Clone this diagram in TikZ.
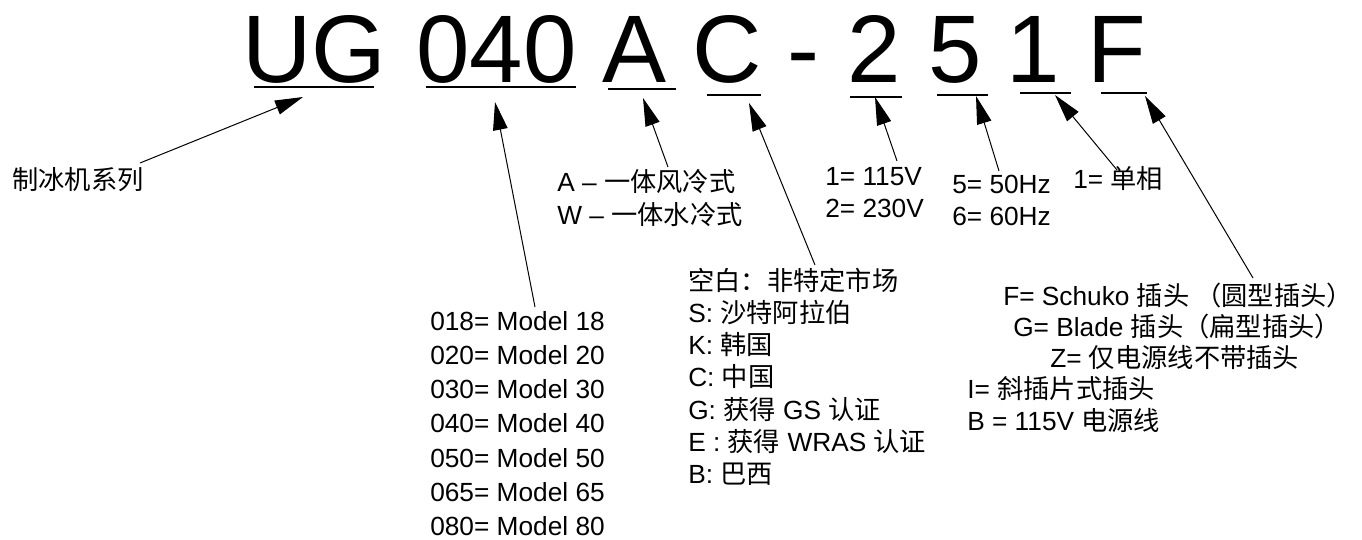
\documentclass[tikz,border=0pt]{standalone}
\usepackage{fontspec}
\setmainfont{Liberation Sans}
\newfontfamily\cjk{Noto Sans CJK SC}
\newcommand{\zh}[1]{{\cjk #1}}
\usetikzlibrary{arrows.meta}
\tikzset{
  lbl/.style={font=\fontsize{19.7}{22}\selectfont, inner sep=0pt, anchor=base west},
  codechar/.style={font=\fontsize{72}{72}\selectfont, inner sep=0pt, anchor=base west},
  uline/.style={line width=1.5pt},
  ptr/.style={-{Triangle[length=21pt,width=11pt]}, line width=0.75pt}
}
\begin{document}
\begin{tikzpicture}[x=0.75pt, y=-0.75pt]
\useasboundingbox (0,0) rectangle (1362,539);
% code letters
\node[codechar] (cUG) at (242,82)    {UG};
\node[codechar] (cM)  at (416,82)    {040};
\node[codechar] (cA)  at (602,82)    {A};
\node[codechar] (cC)  at (692,82)    {C};
\node[codechar] (cD)  at (787,82)    {-};
\node[codechar] (cV)  at (847,82)    {2};
\node[codechar] (cH)  at (928,82)    {5};
\node[codechar] (cP)  at (1006.5,82) {1};
\node[codechar] (cF)  at (1087,82)   {F};
% underlines
\draw[uline] (254,87)  -- (374,87);
\draw[uline] (426,87)  -- (576,87);
\draw[uline] (608,89)  -- (676,89);
\draw[uline] (707,95)  -- (761,95);
\draw[uline] (850,97)  -- (902,97);
\draw[uline] (937,95)  -- (988,95);
\draw[uline] (1020,93) -- (1071,93);
\draw[uline] (1101,93) -- (1147,93);
% arrow ends
\coordinate (tUG) at (303,97);   \coordinate (eUG) at (140,163);
\coordinate (tM)  at (495,102);  \coordinate (eM)  at (535,307);
\coordinate (tA)  at (643,98);   \coordinate (eA)  at (668,167);
\coordinate (tC)  at (749,103);  \coordinate (eC)  at (815,265);
\coordinate (tV)  at (875,97);   \coordinate (eV)  at (897,161);
\coordinate (tH)  at (976,96);   \coordinate (eH)  at (999,171);
\coordinate (tP)  at (1055,95);  \coordinate (eP)  at (1117,170);
\coordinate (tF)  at (1145,96);  \coordinate (eF)  at (1253,278);
\draw[ptr] (eUG) -- (tUG);
\draw[ptr] (eM)  -- (tM);
\draw[ptr] (eA)  -- (tA);
\draw[ptr] (eC)  -- (tC);
\draw[ptr] (eV)  -- (tV);
\draw[ptr] (eH)  -- (tH);
\draw[ptr] (eP)  -- (tP);
\draw[ptr] (eF)  -- (tF);
% series
\node[lbl] (series) at (12,189) {\zh{制冰机系列}};
% models
\node[lbl] (m18) at (430,330)   {018= Model 18};
\node[lbl] (m20) at (430,364.3) {020= Model 20};
\node[lbl] (m30) at (430,398.6) {030= Model 30};
\node[lbl] (m40) at (430,432.9) {040= Model 40};
\node[lbl] (m50) at (430,467.2) {050= Model 50};
\node[lbl] (m65) at (430,501.5) {065= Model 65};
\node[lbl] (m80) at (430,535.8) {080= Model 80};
% condenser
\node[lbl] (air)   at (557,191) {A – \zh{一体风冷式}};
\node[lbl] (water) at (557,224) {W – \zh{一体水冷式}};
% voltage
\node[lbl] (v115) at (825,185) {1= 115V};
\node[lbl] (v230) at (825,217) {2= 230V};
% frequency
\node[lbl] (f50) at (952,193) {5= 50Hz};
\node[lbl] (f60) at (952,225) {6= 60Hz};
% phase
\node[lbl] (ph1) at (1073,188) {1= \zh{单相}};
% market
\node[lbl] (mkN) at (688,290)   {\zh{空白：非特定市场}};
\node[lbl] (mkS) at (688,322.3) {S: \zh{沙特阿拉伯}};
\node[lbl] (mkK) at (688,354.6) {K: \zh{韩国}};
\node[lbl] (mkC) at (688,386.9) {C: \zh{中国}};
\node[lbl] (mkG) at (688,419.2) {G: \zh{获得} GS \zh{认证}};
\node[lbl] (mkE) at (688,451.5) {E : \zh{获得} WRAS \zh{认证}};
\node[lbl] (mkB) at (688,483.8) {B: \zh{巴西}};
% plug
\node[lbl] (plF) at (1003,305) {F= Schuko \zh{插头 （圆型插头）}};
\node[lbl] (plG) at (1013,336) {G= Blade \zh{插头（扁型插头）}};
\node[lbl] (plZ) at (1050,367) {Z= \zh{仅电源线不带插头}};
\node[lbl] (plI) at (967,398)  {I= \zh{斜插片式插头}};
\node[lbl] (plB) at (967,430)  {B = 115V \zh{电源线}};
\end{tikzpicture}
\end{document}
